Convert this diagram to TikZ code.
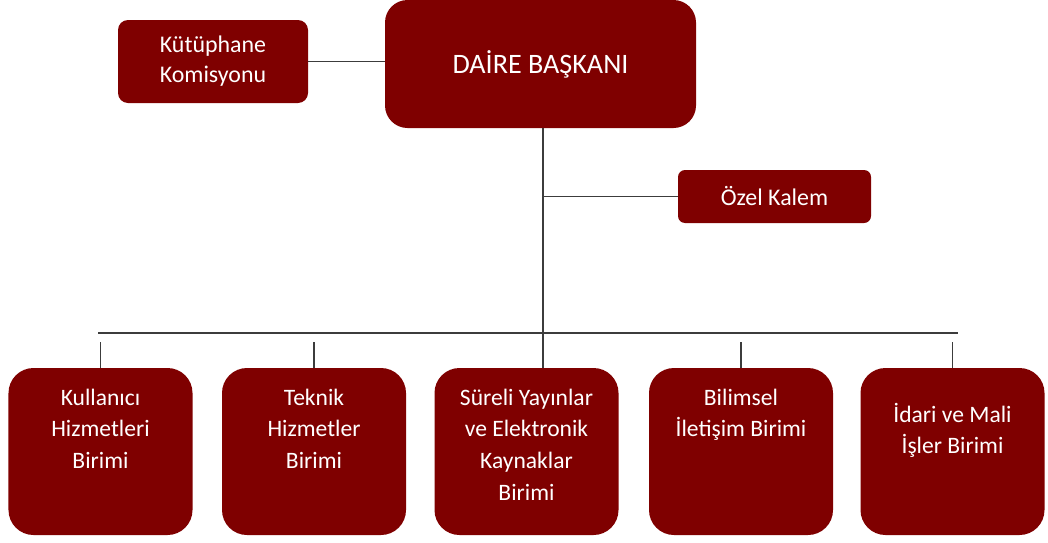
\documentclass[tikz,border=0pt]{standalone}
\usepackage{fontspec}
\setmainfont{Carlito}
\usetikzlibrary{positioning}
\definecolor{koyukirmizi}{HTML}{7F0000}
\definecolor{cizgi}{HTML}{3C3C3C}
\tikzset{
	kutu/.style={fill=koyukirmizi, draw=none, text=white, align=center, inner sep=0pt},
	birim/.style={kutu, minimum width=3.68cm, minimum height=3.34cm, rounded corners=0.5cm},
	yazi/.style={text=white, align=center, inner sep=0pt, font=\fontsize{13.4}{18}\selectfont},
	hat/.style={draw=cizgi, line width=0.8pt}
}

\begin{document}
\begin{tikzpicture}
	\useasboundingbox (0,0) rectangle (20.96,10.84);
	%
	\node[kutu, minimum width=6.22cm, minimum height=2.56cm, rounded corners=0.45cm,
		font=\fontsize{16}{18}\selectfont] (daire) at (10.81,9.56) {DAİRE BAŞKANI};
	\node[kutu, minimum width=3.8cm, minimum height=1.66cm, rounded corners=0.2cm,
		font=\fontsize{13.6}{17}\selectfont] (komisyon) at (4.26,9.61) {Kütüphane\\Komisyonu};
	\node[kutu, minimum width=3.86cm, minimum height=1.06cm, rounded corners=0.14cm,
		font=\fontsize{13.6}{17}\selectfont] (kalem) at (15.49,6.91) {Özel Kalem};
	%
	\node[birim] (u1) at (2.01,1.81) {};
	\node[birim] (u2) at (6.28,1.81) {};
	\node[birim] (u3) at (10.53,1.81) {};
	\node[birim] (u4) at (14.82,1.81) {};
	\node[birim] (u5) at (19.05,1.81) {};
	\node[yazi, below=0.42cm of u1.north] (t1) {Kullanıcı\\Hizmetleri\\Birimi};
	\node[yazi, below=0.42cm of u2.north] (t2) {Teknik\\Hizmetler\\Birimi};
	\node[yazi, below=0.42cm of u3.north] (t3) {Süreli Yayınlar\\ve Elektronik\\Kaynaklar\\Birimi};
	\node[yazi, below=0.42cm of u4.north] (t4) {Bilimsel\\İletişim Birimi};
	\node[yazi, below=0.70cm of u5.north] (t5) {İdari ve Mali\\İşler Birimi};
	%
	\coordinate (bw) at (1.96,4.18);
	\coordinate (be) at (19.16,4.18);
	\coordinate (j) at (10.86,4.18);
	\coordinate (drop) at (0,4.0);
	\draw[hat] (komisyon.east) -- (komisyon.east -| daire.west);
	\draw[hat] (daire.south -| j) -- (u3.north -| j);
	\draw[hat] (kalem.west) -- (kalem.west -| j);
	\draw[hat] (bw) -- (be);
	\foreach \u in {u1,u2,u4,u5}
		\draw[hat] (\u.north |- drop) -- (\u.north);
\end{tikzpicture}
\end{document}
